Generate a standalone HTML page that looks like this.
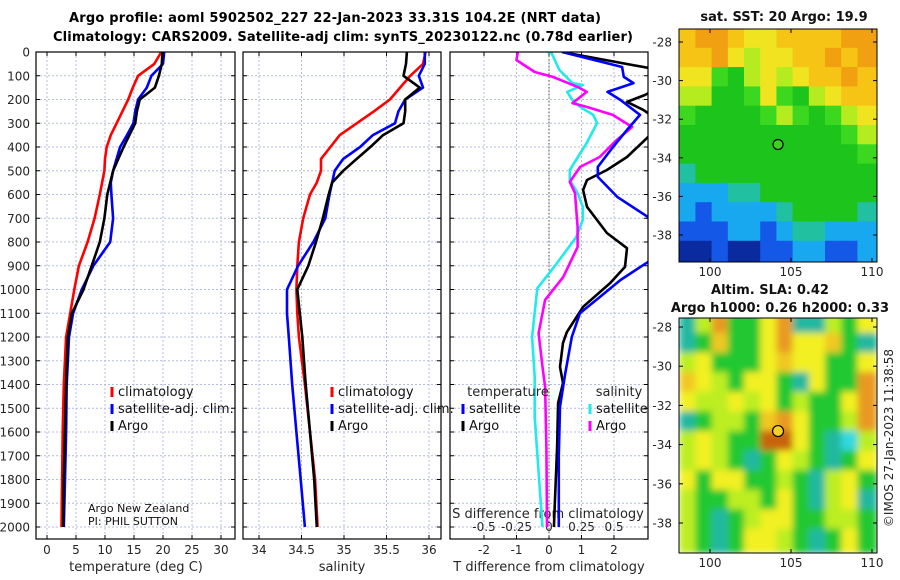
<!DOCTYPE html>
<html><head><meta charset="utf-8"><style>
html,body{margin:0;padding:0;background:#fff}
svg{display:block;font-family:"DejaVu Sans","Liberation Sans",sans-serif}
</style></head><body>
<svg id="chart" width="900" height="580" viewBox="0 0 900 580" xmlns="http://www.w3.org/2000/svg">
<defs>
<clipPath id="c1"><rect x="36" y="52" width="199" height="487"/></clipPath>
<clipPath id="c2"><rect x="243" y="52" width="198" height="487"/></clipPath>
<clipPath id="c3"><rect x="450" y="52" width="198" height="487"/></clipPath>
<clipPath id="cm2"><rect x="679" y="318" width="198" height="235"/></clipPath>
<filter id="blur" x="0" y="0" width="100%" height="100%"><feGaussianBlur stdDeviation="3.5" edgeMode="duplicate"/></filter>
</defs>
<text x="335" y="22" text-anchor="middle" font-weight="bold" font-size="13" textLength="532">Argo profile: aoml 5902502_227 22-Jan-2023 33.31S 104.2E (NRT data)</text>
<text x="343" y="41" text-anchor="middle" font-weight="bold" font-size="13" textLength="580">Climatology: CARS2009. Satellite-adj clim: synTS_20230122.nc (0.78d earlier)</text>
<g id="g"></g>
</svg>
<script>
// ---- data ----
const depths = [0,50,100,150,200,250,300,350,400,450,500,550,600,700,800,900,1000,1100,1200,1400,1600,1800,2000];
const tempClim = [19.7,18.5,15.7,14.8,14,13,12,11,10.3,10,9.9,9.5,9.1,8.2,7,5.5,4.7,4,3.3,2.9,2.7,2.6,2.5];
const tempSat  = [20.2,20,18,17.2,15.7,15.2,14.9,13.8,12.6,12,11.4,11,11.1,11.4,10.9,8,6,4.5,3.8,3.4,3.3,3.1,2.9];
const tempArgo = [19.9,19.8,19.3,18.6,16,15.5,15.2,14.2,13.2,12.3,11.4,10.9,10.4,9.9,9.1,7.7,6.3,4.3,3.6,3.3,3.1,2.9,2.8];
const salClim = [35.96,35.93,35.78,35.66,35.54,35.35,35.15,34.95,34.84,34.73,34.73,34.68,34.6,34.52,34.47,34.45,34.44,34.45,34.47,34.54,34.6,34.66,34.69];
const salSat  = [35.95,35.95,35.88,35.93,35.72,35.64,35.6,35.34,35.19,34.99,34.89,34.86,34.83,34.78,34.64,34.46,34.33,34.33,34.35,34.39,34.44,34.49,34.54];
const salArgo = [35.74,35.73,35.7,35.89,35.72,35.72,35.7,35.46,35.31,35.15,34.99,34.86,34.82,34.75,34.67,34.58,34.45,34.48,34.51,34.55,34.6,34.65,34.68];
const diffDepths = [0,63,105,131,168,202,265,328,400,484,526,610,695,800,884,960,1031,1100,1200,1352,1494,1700,2000];
const dTsat = [0.4,2.25,2.3,2.6,1.8,2.2,2.8,2.4,1.97,1.5,1.5,2.1,3.05,3.6,3.05,2.2,1.57,0.95,0.7,0.5,0.34,0.3,0.3];
const dTargoDepths = [0,67,140,181,210,244,300,358,442,497,539,581,652,762,826,905,973,1073,1179,1225,1326,1394,1478,1663,2000];
const dTargo = [0.4,3.05,3.5,2.95,2.4,2.9,3.5,3.05,2.4,1.78,1.17,1.05,1.17,1.78,2.4,2.34,1.88,1.05,0.55,0.43,0.34,0.43,0.28,0.25,0.15];
const dSdepths = [0,5,76,131,139,168,202,231,265,299,383,497,539,594,652,707,779,890,995,1200,1368,1537,2000];
const dSsat = [-0.01,0.02,0.08,0.18,0.26,0.14,0.18,0.24,0.34,0.37,0.29,0.16,0.16,0.22,0.26,0.26,0.21,0.06,-0.09,-0.13,-0.11,-0.11,-0.05];
const dSargoDepths = [0,34,84,105,147,168,215,231,265,316,371,442,484,547,594,737,821,947,1044,1184,1326,1410,1663,2000];
const dSargo = [-0.24,-0.25,-0.11,0.03,0.22,0.29,0.18,0.29,0.49,0.64,0.52,0.39,0.24,0.16,0.2,0.22,0.22,0.11,-0.03,-0.08,-0.05,-0.03,-0.02,-0.015];
const depthTicks = [0,100,200,300,400,500,600,700,800,900,1000,1100,1200,1300,1400,1500,1600,1700,1800,1900,2000];
const tempTicks = [0,5,10,15,20,25,30];
const salTicks = [34,34.5,35,35.5,36];
const salTickLabels = ["34","34.5","35","35.5","36"];
const dTTicks = [-2,-1,0,1,2];
const dSTicks = [-0.5,-0.25,0,0.25,0.5];
const dSTickLabels = ["-0.5","-0.25","0","0.25","0.5"];
const latTicks = [-28,-30,-32,-34,-36,-38];
const lonTicks = [100,105,110];
const argoLon = 104.2, argoLat = -33.31;
const sstLon0 = 98.1, sstLat0 = -27.3;
const sstGrid = [
[21.8,22.3,22.3,21.8,21.3,21.3,21.8,21.8,21.8,21.8,22.3,22.3],
[21.8,21.8,22.3,21.3,20.8,21.3,21.3,21.8,21.8,22.3,21.8,22.3],
[21.3,21.3,20.3,19.8,20.8,21.3,20.8,21.3,21.8,21.8,22.3,21.8],
[20.8,20.8,19.8,19.8,20.3,21.3,20.3,19.8,20.8,21.3,21.8,21.8],
[20.3,19.8,19.8,19.8,19.8,20.3,20.8,20.3,19.8,20.3,20.8,21.3],
[19.8,19.8,19.8,19.8,19.8,19.8,19.8,19.8,19.8,19.8,20.3,20.8],
[19.8,19.8,19.8,19.8,19.8,19.8,19.8,19.8,19.8,19.8,19.8,20.3],
[19.2,19.8,19.8,19.8,19.8,19.8,19.8,19.8,19.8,19.8,19.8,19.8],
[18.5,18.5,18.5,19.2,19.2,19.8,19.8,19.8,19.8,19.8,19.8,19.8],
[18.5,17.8,18.5,18.5,18.5,18.5,19.2,19.8,19.8,19.8,19.8,19.2],
[17.8,17.8,17.8,18.5,18.5,17.8,18.5,19.2,19.2,18.5,18.5,18.5],
[17,17,17.8,17,17,17.8,17.8,18.5,18.5,17.8,17.8,18.5]];
const slaGrid = [
[-0.25,0,0.28,-0.12,-0.12,0.1,0.28,-0.2,-0.25,0,-0.12,0.1],
[-0.25,-0.12,0.18,-0.12,-0.12,0.1,0.28,0.1,0.1,0.18,-0.12,-0.25],
[0,0.1,-0.12,-0.12,-0.12,0.1,0.18,0.1,0.1,-0.12,-0.12,0.1],
[0.18,0.1,0,-0.12,0.1,0.1,-0.12,-0.25,0.1,-0.12,-0.12,0.28],
[0.1,0,0,0.1,0,0.1,-0.12,0,-0.12,-0.12,0.1,0.28],
[-0.25,-0.12,0,0,-0.12,0.18,0.28,0.1,-0.12,-0.12,0,0.28],
[0,0.1,0,-0.12,-0.12,0.4,0.4,0.1,-0.12,-0.25,-0.35,0],
[0,0.1,0,-0.12,-0.25,-0.12,0.1,0,-0.12,-0.25,-0.12,0.1],
[0.1,-0.12,0.1,0.1,-0.12,-0.12,0,-0.12,-0.25,0,0.1,-0.12],
[0,-0.12,-0.12,0,0,-0.12,0.1,-0.12,-0.25,0,0.1,-0.25],
[0,-0.12,-0.25,-0.12,0,0.1,0.1,-0.12,-0.12,0,0,-0.12],
[0,-0.12,-0.25,-0.12,0.1,0.1,0,-0.12,-0.25,-0.12,0.1,-0.12]];

// ---- scales ----
const NS="http://www.w3.org/2000/svg";
const G=document.getElementById('g');
function mk(t,a,p){const e=document.createElementNS(NS,t);for(const k in a)e.setAttribute(k,a[k]);(p||G).appendChild(e);return e;}
const yD=d=>52+d*0.2375;
const xT=t=>47+t*5.8;
const xS=s=>259+(s-34)*85;
const xdT=t=>549+t*32.5;
const xdS=s=>549+s*130;
const sstX=l=>710+(l-100)*16.2, sstY=l=>42+(-28-l)*19.3;
const slaX=l=>710+(l-100)*16.2, slaY=l=>327+(-28-l)*19.6;

const panels=[{x:36,w:199,clip:'c1'},{x:243,w:198,clip:'c2'},{x:450,w:198,clip:'c3'}];
panels.forEach((p,i)=>{
  const fr=mk('rect',{x:p.x,y:52,width:p.w,height:487,fill:'#fff',stroke:'none'});
  
  
  depthTicks.forEach(d=>{
    const l=mk('line',{x1:p.x,x2:p.x+p.w,y1:yD(d),y2:yD(d),stroke:'#b4bce0','stroke-width':1,'stroke-dasharray':'2,2'});
    
    
    mk('line',{x1:p.x,x2:p.x+4,y1:yD(d),y2:yD(d),stroke:'#000'});
    mk('line',{x1:p.x+p.w-4,x2:p.x+p.w,y1:yD(d),y2:yD(d),stroke:'#000'});
  });
});
function vgrid(ticks,f,label){
  ticks.forEach(v=>{
    const x=f(v);
    const l=mk('line',{x1:x,x2:x,y1:52,y2:539,stroke:'#b4bce0','stroke-width':1,'stroke-dasharray':'2,2'});
    
    
    mk('line',{x1:x,x2:x,y1:535,y2:539,stroke:'#000'});
    mk('line',{x1:x,x2:x,y1:52,y2:56,stroke:'#000'});
  });
}
vgrid(tempTicks,xT,'temperature');
vgrid(salTicks,xS,'salinity');
vgrid(dTTicks,xdT,'t-diff');
const zl=mk('line',{x1:549,x2:549,y1:52,y2:539,stroke:'#4a5a3a','stroke-width':1,'stroke-dasharray':'1.5,2'});



depthTicks.forEach(d=>{
  const t=mk('text',{x:30,y:yD(d)+4.5,'text-anchor':'end','font-size':12,fill:'#262626'});
  t.textContent=d;
  
  
});
function xlabels(ticks,labels,f,y,name){
  ticks.forEach((v,i)=>{
    const t=mk('text',{x:f(v),y:y,'text-anchor':'middle','font-size':12,fill:'#262626'});
    t.textContent=labels?labels[i]:v;
    
    
  });
}
xlabels(tempTicks,null,xT,554,'temperature-tick-label');
xlabels(salTicks,salTickLabels,xS,554,'salinity-tick-label');
xlabels(dTTicks,null,xdT,554,'t-diff-tick-label');
xlabels(dSTicks,dSTickLabels,xdS,531,'s-diff-tick-label');

function axTitle(x,y,txt,name,size){
  const t=mk('text',{x:x,y:y,'text-anchor':'middle','font-size':size||13,fill:'#262626'});
  t.textContent=txt;
  
  
  return t;
}
axTitle(136,571,'temperature (deg C)','temperature-axis-title');
axTitle(342,571,'salinity','salinity-axis-title');
axTitle(549,571,'T difference from climatology','t-diff-axis-title');
axTitle(548,518,'S difference from climatology','s-diff-axis-title');

function series(xs,ds,fx,color,clip,name){
  const pts=xs.map((v,i)=>fx(v).toFixed(1)+','+yD(ds[i]).toFixed(1)).join(' ');
  const l=mk('polyline',{points:pts,fill:'none',stroke:color,'stroke-width':2.6,'stroke-linejoin':'round','clip-path':'url(#'+clip+')'});
  
  
}
series(tempClim,depths,xT,'#f00','c1','temperature-climatology-line');
series(tempSat,depths,xT,'#00f','c1','temperature-satellite-line');
series(tempArgo,depths,xT,'#000','c1','temperature-argo-line');
series(salClim,depths,xS,'#f00','c2','salinity-climatology-line');
series(salSat,depths,xS,'#00f','c2','salinity-satellite-line');
series(salArgo,depths,xS,'#000','c2','salinity-argo-line');
series(dSsat,dSdepths,xdS,'#22eaea','c3','s-diff-satellite-line');
series(dSargo,dSargoDepths,xdS,'#f0f','c3','s-diff-argo-line');
series(dTargo,dTargoDepths,xdT,'#000','c3','t-diff-argo-line');
series(dTsat,diffDepths,xdT,'#00f','c3','t-diff-satellite-line');

panels.forEach((p,i)=>{
  const fr=mk('rect',{x:p.x,y:52,width:p.w,height:487,fill:'none',stroke:'#000','stroke-width':1.2});
  
  
});

function legItem(x,y,color,txt,name){
  mk('line',{x1:x,x2:x,y1:y-9,y2:y+1,stroke:color,'stroke-width':3});
  const t=mk('text',{x:x+6,y:y,'font-size':13,fill:'#111'});
  t.textContent=txt;
  
  
}
legItem(112,396,'#f00','climatology','legend-climatology');
legItem(112,413,'#00f','satellite-adj. clim.','legend-satellite-adj');
legItem(112,430,'#000','Argo','legend-argo');
legItem(332,396,'#f00','climatology','legend2-climatology');
legItem(332,413,'#00f','satellite-adj. clim.','legend2-satellite-adj');
legItem(332,430,'#000','Argo','legend2-argo');
axTitle(508,396,'temperature','legend3-temperature-header');
axTitle(619,396,'salinity','legend3-salinity-header');
legItem(463,413,'#00f','satellite','legend3-t-satellite');
legItem(463,430,'#000','Argo','legend3-t-argo');
legItem(590,413,'#22eaea','satellite','legend3-s-satellite');
legItem(590,430,'#f0f','Argo','legend3-s-argo');
let t1=mk('text',{x:88,y:512,'font-size':11,fill:'#111'});t1.textContent='Argo New Zealand';


let t2=mk('text',{x:88,y:525,'font-size':11,fill:'#111'});t2.textContent='PI: PHIL SUTTON';



// ---- SST map ----
const sstStops=[[17,'#0a2aa0'],[17.8,'#1458e8'],[18.5,'#18a8f0'],[19.2,'#20c0a0'],[19.8,'#1cc41c'],[20.3,'#3cd820'],[20.8,'#b4ec20'],[21.3,'#f0e420'],[21.8,'#f6c414'],[22.3,'#f0a010']];
function cmap(stops,v){let best=stops[0];stops.forEach(s=>{if(Math.abs(s[0]-v)<Math.abs(best[0]-v))best=s;});return best[1];}
const mg1=mk('g',{});


sstGrid.forEach((row,r)=>row.forEach((v,c)=>{
  const x0=sstX(sstLon0+c), y0=sstY(sstLat0-r);
  const x1=c==11?877:sstX(sstLon0+c+1), y1=r==11?262:sstY(sstLat0-r-1);
  const cell=mk('rect',{x:x0,y:y0,width:x1-x0+0.5,height:y1-y0+0.5,fill:cmap(sstStops,v)},mg1);
  
  
}));
mk('rect',{x:679,y:29,width:198,height:233,fill:'none',stroke:'#000','stroke-width':1});
const m1=mk('circle',{cx:sstX(argoLon),cy:sstY(argoLat),r:5,fill:'#40d020',stroke:'#000','stroke-width':1.2});



// ---- SLA map ----
const slaStops=[[-0.35,'#30d8e0'],[-0.25,'#20b8a0'],[-0.12,'#22c830'],[0,'#bcee20'],[0.1,'#f2f020'],[0.18,'#f0c820'],[0.28,'#e89a20'],[0.4,'#c86410']];
const mg2=mk('g',{'clip-path':'url(#cm2)'});
const mg2b=mk('g',{filter:'url(#blur)'},mg2);


slaGrid.forEach((row,r)=>row.forEach((v,c)=>{
  const x0=slaX(sstLon0+c), y0=slaY(sstLat0-r);
  const x1=c==11?877:slaX(sstLon0+c+1), y1=r==11?553:slaY(sstLat0-r-1);
  const cell=mk('rect',{x:x0,y:y0,width:x1-x0+0.5,height:y1-y0+0.5,fill:cmap(slaStops,v)},mg2b);
  
  
}));
mk('rect',{x:679,y:318,width:198,height:235,fill:'none',stroke:'#000','stroke-width':1});
const m2=mk('circle',{cx:slaX(argoLon),cy:slaY(argoLat),r:5.5,fill:'#f6d020',stroke:'#000','stroke-width':1.2});



function fbold(x,y,txt,name){
  const t=mk('text',{x:x,y:y,'text-anchor':'middle','font-size':13,'font-weight':'bold',fill:'#111'});
  t.textContent=txt;
  
  
}
fbold(784,21,'sat. SST: 20 Argo: 19.9','sst-map-title');
fbold(770,294,'Altim. SLA: 0.42','sla-map-title');
fbold(780,312,'Argo h1000: 0.26 h2000: 0.33','sla-map-subtitle');

[[sstY,29,262,'sst'],[slaY,318,553,'sla']].forEach(([fy,top,bot,nm])=>{
  latTicks.forEach(l=>{
    const y=fy(l);
    mk('line',{x1:679,x2:683,y1:y,y2:y,stroke:'#000'});
    mk('line',{x1:873,x2:877,y1:y,y2:y,stroke:'#000'});
    const t=mk('text',{x:672,y:y+4.5,'text-anchor':'end','font-size':12,fill:'#262626'});
    t.textContent=l;
    
    
  });
  lonTicks.forEach(l=>{
    const x=sstX(l);
    mk('line',{x1:x,x2:x,y1:bot-4,y2:bot,stroke:'#000'});
    mk('line',{x1:x,x2:x,y1:top,y2:top+4,stroke:'#000'});
    const t=mk('text',{x:x,y:bot+14,'text-anchor':'middle','font-size':12,fill:'#262626'});
    t.textContent=l;
    
    
  });
});
const cr=mk('text',{x:0,y:0,'font-size':12,fill:'#262626','text-anchor':'middle',transform:'translate(893,438) rotate(-90)'});
cr.textContent='©IMOS 27-Jan-2023 11:38:58';


</script>
</body></html>
